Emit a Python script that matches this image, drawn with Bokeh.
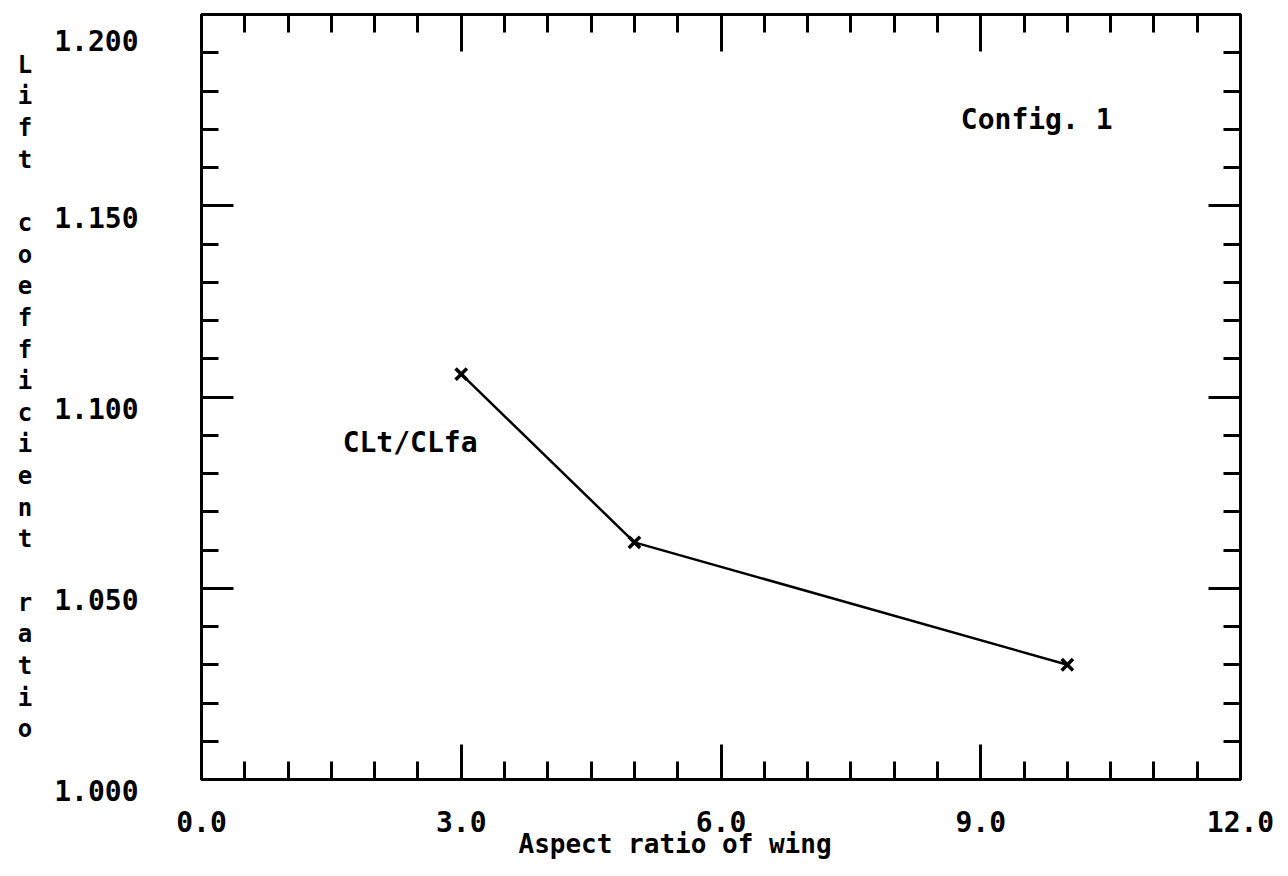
from bokeh.plotting import figure
from bokeh.models import (LinearAxis, FixedTicker, Range1d, Label, Title,
                          PrintfTickFormatter, CustomJSTickFormatter)
from bokeh.embed import file_html
from bokeh.resources import INLINE

# ---- data ----
aspect_ratio = [3.0, 5.0, 10.0]
lift_ratio = [1.106, 1.062, 1.030]
x_ticks = [0.0, 3.0, 6.0, 9.0, 12.0]
y_ticks = [1.0, 1.05, 1.1, 1.15, 1.2]
x_title = "Aspect ratio of wing"
y_title = "Lift coefficient ratio"
series_label = "CLt/CLfa"
config_label = "Config. 1"

FONT = "DejaVu Sans Mono"
LW = 3

x_minor = [i * 0.5 for i in range(25)]
y_minor = [1.0 + i * 0.01 for i in range(21)]

p = figure(frame_width=1039, frame_height=765,
           x_range=Range1d(0, 12), y_range=Range1d(1.0, 1.2),
           output_backend="svg", toolbar_location=None,
           min_border_left=201, min_border_right=48,
           min_border_top=14, min_border_bottom=97)
p.grid.visible = False
p.outline_line_color = "black"
p.outline_line_width = LW
p.background_fill_color = "white"
p.border_fill_color = "white"


def style(ax, ticks, minor, major_len, minor_len, show_labels):
    ax.ticker = FixedTicker(ticks=ticks, minor_ticks=minor)
    ax.axis_line_width = LW
    ax.axis_line_color = "black"
    ax.major_tick_in = major_len
    ax.major_tick_out = 0
    ax.minor_tick_in = minor_len
    ax.minor_tick_out = 0
    ax.major_tick_line_width = LW
    ax.minor_tick_line_width = LW
    ax.major_tick_line_color = "black"
    ax.minor_tick_line_color = "black"
    if not show_labels:
        ax.major_label_text_color = None
        ax.major_label_text_font_size = "0px"
    else:
        ax.major_label_text_font = FONT
        ax.major_label_text_font_style = "bold"
        ax.major_label_text_font_size = "28px"
        ax.major_label_text_color = "black"


xb = p.xaxis[0]
style(xb, x_ticks, x_minor, 35, 18, True)
xb.formatter = PrintfTickFormatter(format="%.1f")
xb.major_label_standoff = 31

yl = p.yaxis[0]
style(yl, y_ticks, y_minor, 32, 17, True)
# labels sit just below their tick, as in the plotter output
yl.formatter = CustomJSTickFormatter(code="return '\\n' + tick.toFixed(3);")
yl.major_label_text_line_height = 0.75
yl.major_label_standoff = 63
yl.axis_label = "\n".join(y_title)
yl.axis_label_orientation = "horizontal"
yl.axis_label_text_font = FONT
yl.axis_label_text_font_style = "bold"
yl.axis_label_text_font_size = "24px"
yl.axis_label_text_line_height = 1.13
yl.axis_label_text_color = "black"
yl.axis_label_standoff = 19

xt = LinearAxis()
style(xt, x_ticks, x_minor, 37, 18, False)
p.add_layout(xt, "above")

yr = LinearAxis()
style(yr, y_ticks, y_minor, 32, 17, False)
p.add_layout(yr, "right")

# x-axis title, a little left of centre as in the reference
p.add_layout(Title(text=x_title, align="left", offset=317, standoff=-15,
                   text_font=FONT, text_font_style="bold", text_font_size="26px",
                   text_color="black"), "below")

p.line(aspect_ratio, lift_ratio, line_color="black", line_width=2.5)
p.scatter(aspect_ratio, lift_ratio, marker="x", size=16, line_color="black", line_width=3.5)

p.add_layout(Label(x=1.63, y=1.088, text=series_label, text_font=FONT,
                   text_font_style="bold", text_font_size="28px",
                   text_baseline="middle", text_align="left", text_color="black"))
p.add_layout(Label(x=8.77, y=1.1725, text=config_label, text_font=FONT,
                   text_font_style="bold", text_font_size="28px",
                   text_baseline="middle", text_align="left", text_color="black"))

open("out.html", "w").write(file_html(p, INLINE))
